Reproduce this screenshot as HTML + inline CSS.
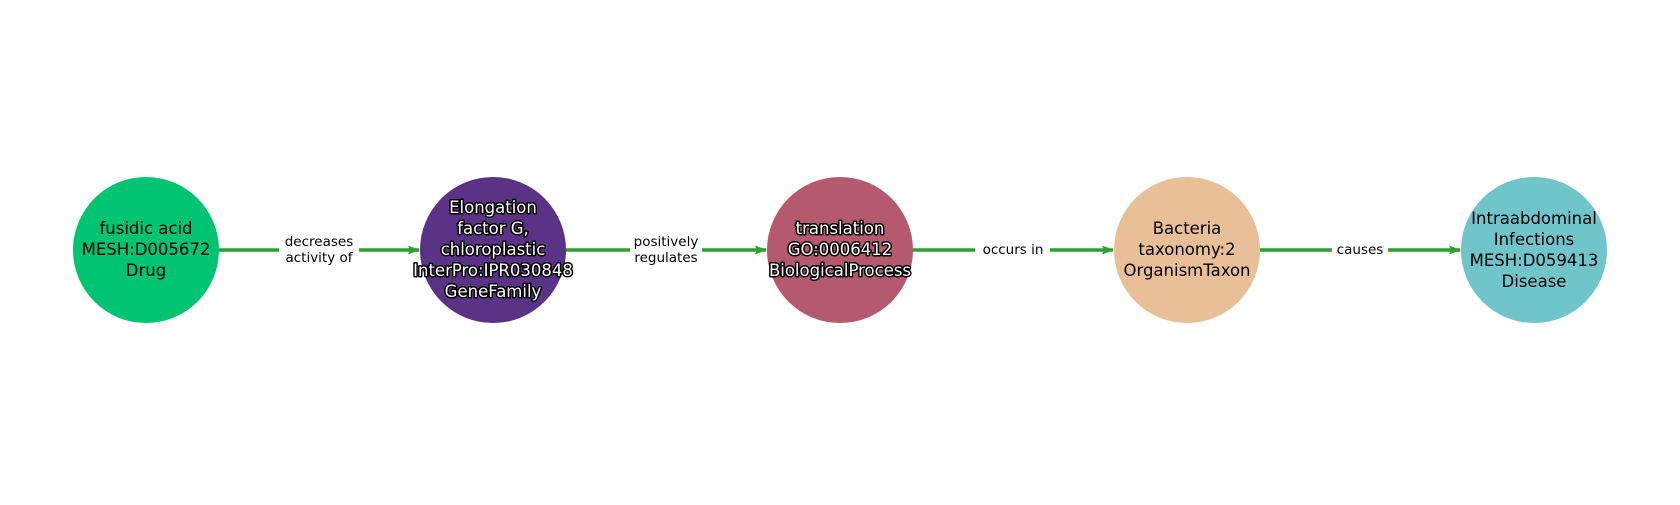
<!DOCTYPE html>
<html><head><meta charset="utf-8"><style>
html,body{margin:0;padding:0;background:#fff;}
svg text{font-family:"DejaVu Sans","Liberation Sans",sans-serif;}
</style></head><body>
<svg width="1680" height="500" viewBox="0 0 1680 500" xmlns="http://www.w3.org/2000/svg">
<defs>
<marker id="a" markerWidth="12" markerHeight="12" refX="11" refY="6" orient="auto" markerUnits="userSpaceOnUse">
<path d="M0,1.5 L12,6 L0,10.5 L2,6 Z" fill="#2ca02c"/>
</marker>
</defs>
<g stroke="#2ca02c" stroke-width="3.4" fill="none">
<line x1="219" y1="250" x2="419" y2="250" marker-end="url(#a)"/>
<line x1="566" y1="250" x2="766" y2="250" marker-end="url(#a)"/>
<line x1="913" y1="250" x2="1113" y2="250" marker-end="url(#a)"/>
<line x1="1260" y1="250" x2="1460" y2="250" marker-end="url(#a)"/>
</g>
<circle cx="146" cy="250" r="73" fill="#00c472"/>
<circle cx="493" cy="250" r="73" fill="#5a3286"/>
<circle cx="840" cy="250" r="73" fill="#b5596e"/>
<circle cx="1187" cy="250" r="73" fill="#e8bf96"/>
<circle cx="1534" cy="250" r="73" fill="#70c5cb"/>
<g font-size="13.5" text-anchor="middle" fill="#000">
<rect x="279" y="231" width="80" height="38" fill="#fff"/>
<text x="319" y="246">decreases</text><text x="319" y="262">activity of</text>
<rect x="630" y="231" width="72" height="38" fill="#fff"/>
<text x="666" y="246">positively</text><text x="666" y="262">regulates</text>
<rect x="975" y="240" width="75" height="20" fill="#fff"/>
<text x="1013" y="254">occurs in</text>
<rect x="1332" y="240" width="56" height="20" fill="#fff"/>
<text x="1360" y="254">causes</text>
</g>
<g font-size="16.5" text-anchor="middle" fill="#000">
<text x="146" y="234">fusidic acid</text><text x="146" y="255">MESH:D005672</text><text x="146" y="276">Drug</text>
<text x="1187" y="234">Bacteria</text><text x="1187" y="255">taxonomy:2</text><text x="1187" y="276">OrganismTaxon</text>
<text x="1534" y="224">Intraabdominal</text><text x="1534" y="245">Infections</text><text x="1534" y="266">MESH:D059413</text><text x="1534" y="287">Disease</text>
</g>
<g font-size="16.5" text-anchor="middle" fill="#fff" stroke="#000" stroke-width="3" paint-order="stroke" stroke-linejoin="round">
<text x="493" y="213">Elongation</text><text x="493" y="234">factor G,</text><text x="493" y="255">chloroplastic</text><text x="493" y="276">InterPro:IPR030848</text><text x="493" y="297">GeneFamily</text>
<text x="840" y="234">translation</text><text x="840" y="255">GO:0006412</text><text x="840" y="276">BiologicalProcess</text>
</g>
</svg>
</body></html>
